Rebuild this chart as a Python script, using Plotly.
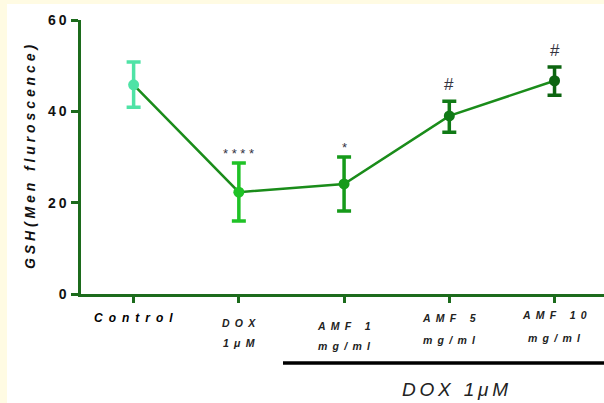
import plotly.graph_objects as go

groups = ["Control", "DOX 1μM", "AMF 1 mg/ml", "AMF 5 mg/ml", "AMF 10 mg/ml"]
means = [45.8, 22.3, 24.1, 39.0, 46.7]
err_up = [5.0, 6.4, 5.9, 3.2, 3.0]
err_down = [4.9, 6.3, 5.9, 3.6, 3.2]
colors = ["#4fe3a6", "#1fc226", "#169a1a", "#107a16", "#0c6510"]
signif = ["", "* * * *", "*", "#", "#"]
tick_line1 = ["Control", "DOX", "AMF 1", "AMF 5", "AMF 10"]
tick_line2 = ["", "1μM", "mg/ml", "mg/ml", "mg/ml"]
y_ticks = [0, 20, 40, 60]
y_title = "GSH(Men fluroscence)"
bracket_label = "DOX 1μM"


def spaced(s, sep="\u2009"):
    return sep.join(s)


line1_shift = [-24, -29, -32, -24, -21]
line2_shift = [0, -49, -52, -46, -44]

xs = list(range(len(groups)))
fig = go.Figure()
fig.add_trace(go.Scatter(x=xs, y=means, mode="lines",
                         line=dict(color="#1a8c1a", width=2.5), showlegend=False))
for i in xs:
    fig.add_trace(go.Scatter(
        x=[i], y=[means[i]], mode="markers",
        marker=dict(color=colors[i], size=11),
        error_y=dict(type="data", symmetric=False, array=[err_up[i]], arrayminus=[err_down[i]],
                     color=colors[i], thickness=3.5, width=7),
        showlegend=False))

annotations = []
for i in xs:
    if signif[i]:
        is_hash = signif[i] == "#"
        annotations.append(dict(x=i, y=means[i] + err_up[i], xref="x", yref="y",
                                text=signif[i], showarrow=False, yanchor="bottom",
                                yshift=5 if is_hash else 0,
                                font=dict(family="Liberation Sans", size=17 if is_hash else 13,
                                          color="#33333f")))
    if i == 0:
        annotations.append(dict(x=i, y=0, xref="x", yref="paper",
                                text="<b><i>" + spaced(tick_line1[i], "\u2002") + "</i></b>",
                                showarrow=False, yanchor="middle", yshift=line1_shift[i],
                                font=dict(family="Liberation Sans", size=12, color="black")))
    else:
        annotations.append(dict(x=i, y=0, xref="x", yref="paper",
                                text="<b><i>" + spaced(tick_line1[i], "\u2002") + "</i></b>",
                                showarrow=False, yanchor="middle", yshift=line1_shift[i],
                                font=dict(family="Liberation Sans", size=10.5, color="#222222")))
        annotations.append(dict(x=i, y=0, xref="x", yref="paper",
                                text="<b><i>" + spaced(tick_line2[i], "\u2002") + "</i></b>",
                                showarrow=False, yanchor="middle", yshift=line2_shift[i],
                                font=dict(family="Liberation Sans", size=10.5, color="#222222")))
annotations.append(dict(x=3.05, y=0, xref="x", yref="paper",
                        text="<i>" + spaced(bracket_label, "\u2009") + "</i>",
                        showarrow=False, yanchor="middle", yshift=-95, xanchor="center",
                        font=dict(family="Liberation Sans", size=19, color="#222222")))
annotations.append(dict(x=(30 - 81) / 523, y=0.50, xref="paper", yref="paper",
                        text="<b><i>" + spaced(y_title, " ") + "</i></b>",
                        showarrow=False, textangle=-90, xanchor="center", yanchor="middle",
                        font=dict(family="Liberation Sans", size=14, color="#111111")))

fig.update_layout(
    width=604, height=403,
    margin=dict(l=81, r=0, t=20, b=109),
    paper_bgcolor="white", plot_bgcolor="white",
    xaxis=dict(range=[-0.5, 4.47], tickvals=xs, ticktext=[""] * 5, showgrid=False, zeroline=False,
               showline=True, linecolor="#1c6b1c", linewidth=2.5, ticks="outside", ticklen=6,
               tickcolor="#1c6b1c", tickwidth=2.5, fixedrange=True),
    yaxis=dict(range=[0, 60], tickvals=y_ticks,
               ticktext=["<b>" + spaced(str(v), "\u2009") + "</b>" for v in y_ticks],
               showgrid=False, zeroline=False,
               showline=True, linecolor="#1c6b1c", linewidth=2.5, ticks="outside", ticklen=7,
               tickcolor="#1c6b1c", tickwidth=2.5, ticklabelstandoff=2, fixedrange=True,
               tickfont=dict(family="Liberation Sans", size=14, color="#111111")),
    annotations=annotations,
    shapes=[
        dict(type="rect", xref="paper", yref="paper", x0=-81/523, x1=-74/523, y0=-109/274, y1=1+20/274,
             fillcolor="#fffbe3", line=dict(width=0), layer="below"),
        dict(type="rect", xref="paper", yref="paper", x0=-81/523, x1=1, y0=1+16/274, y1=1+20/274,
             fillcolor="#fffbe3", line=dict(width=0), layer="below"),
        dict(type="line", xref="paper", yref="paper", x0=(283-81)/523, x1=1, y0=-69/274, y1=-69/274,
             line=dict(color="black", width=3.5)),
    ],
    showlegend=False,
)
fig.write_html("out.html", config={"displayModeBar": False},
               post_script="document.body.style.margin='0';document.body.style.overflow='hidden';")
